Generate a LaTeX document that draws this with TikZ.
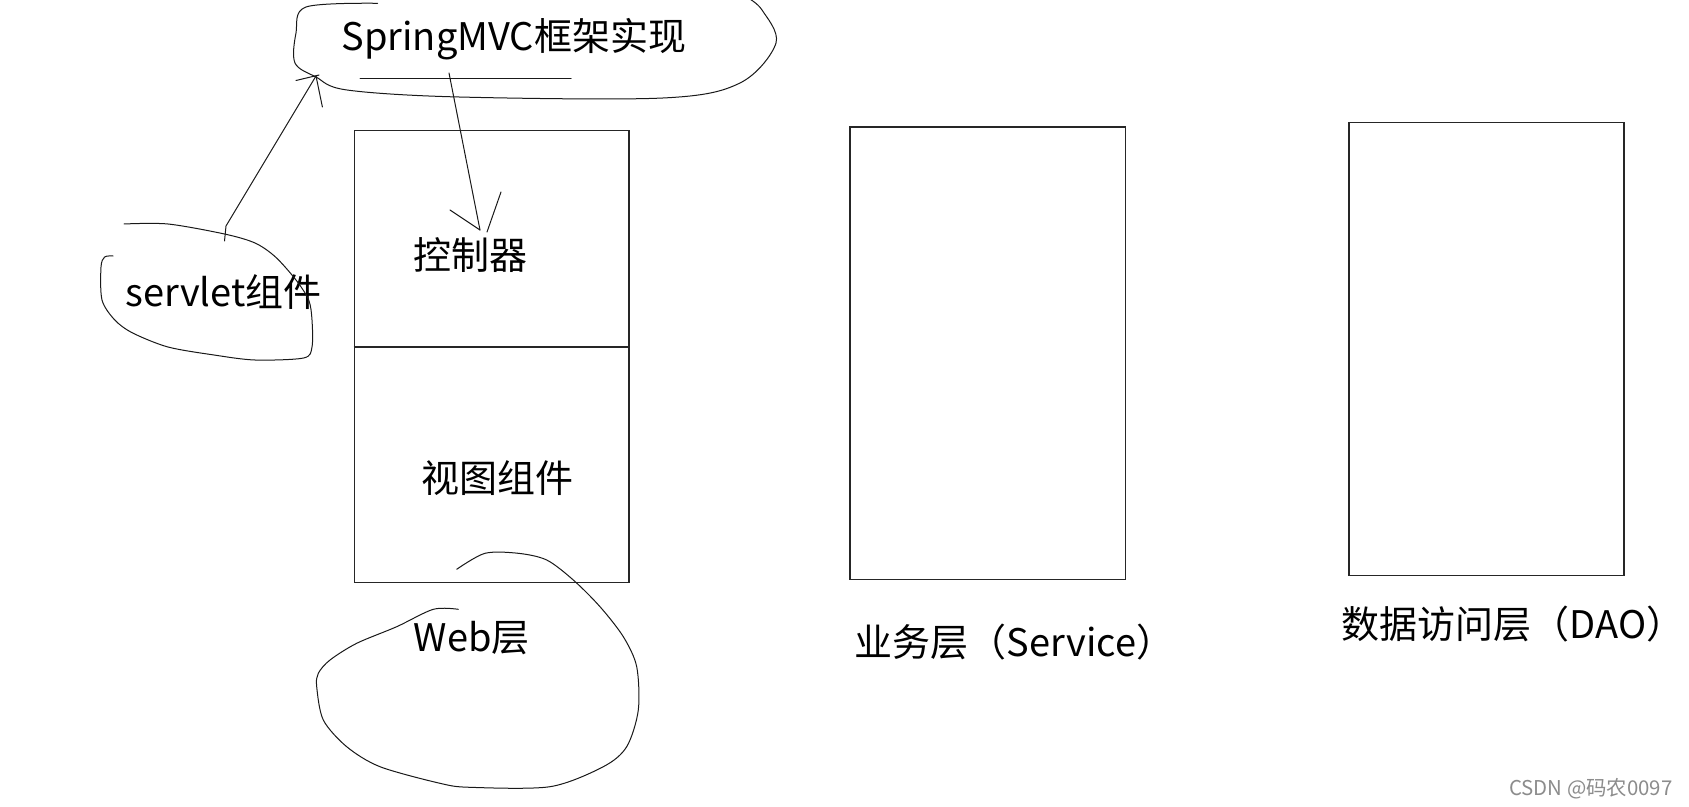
\documentclass[tikz,border=0pt]{standalone}
\usepackage{fontspec}
\setmainfont{Noto Sans CJK SC}
\begin{document}
\begin{tikzpicture}[x=0.5pt,y=-0.5pt,
  lbl/.style={font=\fontsize{19pt}{21pt}\selectfont, text=black, inner sep=0pt},
  wm/.style={font=\fontsize{10.2pt}{12pt}\selectfont, text=black!45, inner sep=0pt},
  box/.style={draw=black!85, line width=0.7pt, fill=none, inner sep=0pt},
  hand/.style={draw=black!90, line width=0.5pt, line join=round, line cap=round}]
\path[fill=white] (0,0) rectangle (1689,807);
\useasboundingbox (0,0) rectangle (1689,807);

% boxes
\node[box, minimum width=137.3pt, minimum height=226.25pt] (webbox) at (491.7,356.5) {};
\draw[box] (webbox.west |- 0,346.9) coordinate (dl) -- (webbox.east |- 0,346.9) coordinate (dr);
\node[box, minimum width=137.9pt, minimum height=226.2pt] (svcbox) at (987.8,353.3) {};
\node[box, minimum width=137.5pt, minimum height=226.2pt] (daobox) at (1486.5,349) {};

% labels
\node[lbl] (spring) at (513.8,38.8) {SpringMVC框架实现};
\node[lbl] (ctrl) at (470.7,255.3) {控制器};
\node[lbl] (view) at (497.7,478.3) {视图组件};
\node[lbl] (web) at (471.8,637.7) {Web层};
\node[lbl] (svc) at (1014.5,642.5) {业务层（Service）};
\node[lbl] (dao) at (1513,624) {数据访问层（DAO）};
\node[lbl] (servlet) at (223.5,291.9) {servlet组件};
\node[wm, anchor=east] (wm) at (1673,789) {CSDN @码农0097};

% SpringMVC freehand ellipse
\draw[hand] plot[smooth, tension=0.55] coordinates {(377.6,3.3) (306,7) (296,33) (295,63) (316,77) (347,90) (459,97) (663,98) (740,83) (776,43) (762,10) (748,-2)};
\coordinate (ul1) at (360,78.5);
\coordinate (ul2) at (571,78.5);
\draw[hand] (ul1) -- (ul2);

% servlet freehand ellipse
\draw[hand] plot[smooth, tension=0.5] coordinates {(124,224) (168,224) (224.5,234) (255,243) (275.5,257) (296,280) (308.7,300) (312,320) (312,347) (303.6,358) (255,360) (214,355) (168,347) (132.7,333) (114.8,320) (102,300) (101,267) (104.6,257) (113,256)};

% Web freehand ellipse
\draw[hand] plot[smooth, tension=0.5] coordinates {(456.7,569.3) (485,553.3) (518.3,553.3) (546.7,560) (573.3,580) (600,606.7) (623.3,636.7) (636.7,666.7) (638.3,710) (626.7,746.7) (603.3,766.7) (550,786.7) (470,787.3) (440,783.3) (380,766.7) (346.7,746.7) (323.3,720) (316.7,686.7) (318.3,673.3) (330,660) (356.7,643.3) (396.7,626.7) (433.3,609.3) (458.3,609.3)};

% arrow servlet -> SpringMVC
\coordinate (a1s) at (224.5,241);
\coordinate (a1t) at (316,76);
\coordinate (b1a) at (296,80.5);
\coordinate (b1b) at (322.4,107);
\draw[hand] (a1s) -- (226,226) -- (a1t);
\draw[hand] (b1a) -- (319,75) -- (a1t);
\draw[hand] (a1t) -- (b1b);

% arrow SpringMVC -> controller
\coordinate (a2s) at (449,73);
\coordinate (a2t) at (480,230);
\coordinate (b2a) at (450,210);
\coordinate (b2b) at (501,192);
\draw[hand] (a2s) -- (a2t);
\draw[hand] (b2a) -- (a2t);
\draw[hand] (b2b) -- (487,232);
\end{tikzpicture}
\end{document}
